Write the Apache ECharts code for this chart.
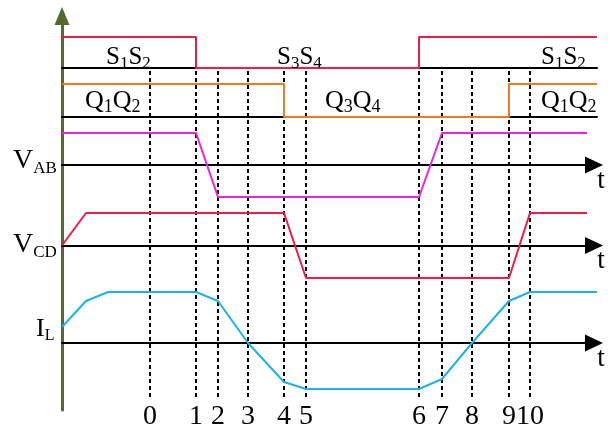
<!DOCTYPE html>
<html>
<head>
<meta charset="utf-8">
<script src="https://cdn.jsdelivr.net/npm/echarts@6/dist/echarts.min.js"></script>
<style>html,body{margin:0;padding:0;background:#fff}#c{width:616px;height:427px}</style>
</head>
<body>
<div id="c"></div>
<script>
// ---- data (time in arbitrary units from the vertical axis) ----
const eventTimes  = [88, 134, 156, 186, 222, 244, 357, 380, 410, 447, 468];
const eventLabels = ['0','1','2','3','4','5','6','7','8','9','10'];
const tMax = 535;

const sX = [0, 134, 134, 357, 357, 535];
const sY = [1, 1, 0, 0, 1, 1];

const qX = [0, 222, 222, 447, 447, 535];
const qY = [1, 1, 0, 0, 1, 1];

const vabX = [0, 134, 156, 357, 380, 525];
const vabY = [1, 1, -1, -1, 1, 1];

const vcdX = [0, 24, 222, 244, 447, 468, 525];
const vcdY = [0, 1, 1, -1, -1, 1, 1];

const ilX = [0, 24, 46, 134, 156, 186, 222, 244, 357, 380, 410, 447, 468, 535];
const ilY = [1.6, 4.2, 5.1, 5.1, 4.2, 0, -3.9, -4.6, -4.6, -3.6, 0, 4.2, 5.1, 5.1];

// ---- styles ----
const FONT = 'Liberation Serif';
const C_RED = '#ec1c4b', C_ORANGE = '#ee7a22', C_MAG = '#ee22d6', C_BLUE = '#1cb2ea', C_AXIS = '#56692c';
const zip = (xs, ys) => xs.map((x, i) => [x, ys[i]]);

const L = 62, R = 19;
const grids = [
  {left: L, right: R, top: 37,  height: 31},   // 0 S
  {left: L, right: R, top: 84,  height: 33},   // 1 Q
  {left: L, right: R, top: 133, height: 64},   // 2 VAB
  {left: L, right: R, top: 213, height: 65},   // 3 VCD
  {left: L, right: R, top: 292, height: 97},   // 4 IL
  {left: L, right: R, top: 70,  bottom: 30},   // 5 guides
  {left: L, right: R, top: 16,  bottom: 17}    // 6 frame
];

function xAx(i, arrow) {
  return {
    type: 'value', gridIndex: i, min: 0, max: tMax,
    axisLine: {show: i < 5, onZero: true,
      symbol: arrow ? ['none', 'triangle'] : ['none', 'none'],
      symbolSize: [17, 18], symbolOffset: [0, -3],
      lineStyle: {color: '#000', width: 2}},
    axisTick: {show: false}, axisLabel: {show: false}, splitLine: {show: false},
    name: arrow ? 't' : '', nameLocation: 'end', nameGap: 4,
    nameTextStyle: {fontFamily: FONT, fontSize: 27, color: '#000', align: 'center', verticalAlign: 'top', padding: [2, 0, 0, 0]}
  };
}
function yAx(i, min, max, show) {
  return {
    type: 'value', gridIndex: i, min: min, max: max,
    axisLine: {show: !!show, symbol: ['none', 'triangle'], symbolSize: [15, 18],
      lineStyle: {color: C_AXIS, width: 3}},
    axisTick: {show: false}, axisLabel: {show: false}, splitLine: {show: false}
  };
}

function lineSeries(i, xs, ys, color) {
  return {
    type: 'line', xAxisIndex: i, yAxisIndex: i, data: zip(xs, ys),
    symbol: 'none', animation: false, z: 5,
    lineStyle: {color: color, width: 2}
  };
}

function label(parts, x, y, size, subSize) {
  // parts: [[main, sub], ...]
  let txt = parts.map(p => '{m|' + p[0] + '}' + (p[1] ? '{s|' + p[1] + '}' : '')).join('');
  return {
    type: 'text', x: x, y: y, z: 10,
    style: {
      text: txt, align: 'left', verticalAlign: 'bottom',
      rich: {
        m: {fontFamily: FONT, fontSize: size, color: '#000', verticalAlign: 'bottom'},
        s: {fontFamily: FONT, fontSize: subSize, color: '#000', verticalAlign: 'bottom', padding: [0, 0, -2, 0]}
      }
    }
  };
}

const chart = echarts.init(document.getElementById('c'), null, {renderer: 'canvas'});
chart.setOption({
  animation: false,
  backgroundColor: '#fff',
  grid: grids,
  xAxis: [xAx(0, false), xAx(1, false), xAx(2, true), xAx(3, true), xAx(4, true), xAx(5, false), xAx(6, false)],
  yAxis: [yAx(0, 0, 1), yAx(1, 0, 1), yAx(2, -1, 1), yAx(3, -1, 1), yAx(4, -4.6, 5.1), yAx(5, 0, 1), yAx(6, 0, 1, true)],
  series: [
    lineSeries(0, sX, sY, C_RED),
    lineSeries(1, qX, qY, C_ORANGE),
    lineSeries(2, vabX, vabY, C_MAG),
    lineSeries(3, vcdX, vcdY, C_RED),
    lineSeries(4, ilX, ilY, C_BLUE),
    {
      type: 'line', xAxisIndex: 5, yAxisIndex: 5, data: [], symbol: 'none', z: 1,
      markLine: {
        silent: true, symbol: ['none', 'none'], animation: false,
        lineStyle: {color: '#000', width: 2, type: [4, 3]},
        label: {show: true, position: 'start', distance: 6, formatter: '{b}',
          fontFamily: FONT, fontSize: 28, color: '#000'},
        data: eventTimes.map((t, i) => ({xAxis: t, name: eventLabels[i]}))
      }
    }
  ],
  graphic: [
    label([['S', '1'], ['S', '2']], 106, 70, 25, 17),
    label([['S', '3'], ['S', '4']], 277, 70, 25, 17),
    label([['S', '1'], ['S', '2']], 541, 70, 25, 17),
    label([['Q', '1'], ['Q', '2']], 85, 114, 26, 18),
    label([['Q', '3'], ['Q', '4']], 325, 114, 26, 18),
    label([['Q', '1'], ['Q', '2']], 541, 114, 26, 18),
    label([['V', 'AB']], 13, 175, 28, 17),
    label([['V', 'CD']], 13, 259, 28, 17),
    label([['I', 'L']], 36, 342, 26, 16)
  ]
});
</script>
</body>
</html>
